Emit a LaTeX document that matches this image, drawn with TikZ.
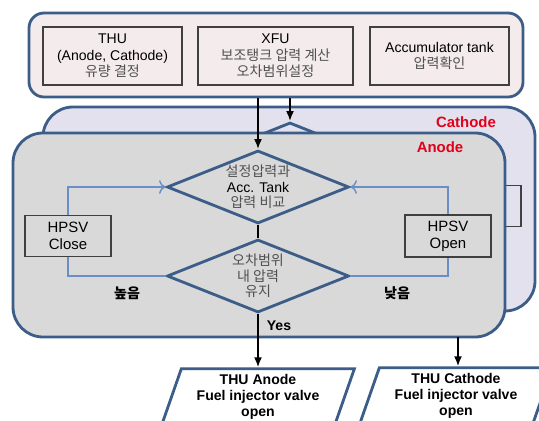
\documentclass[tikz,border=0pt]{standalone}
\usepackage{fontspec}
\setmainfont{Liberation Sans}
\newfontfamily\kr{Noto Sans CJK KR}
\usetikzlibrary{shapes.geometric,arrows.meta}

\definecolor{edgeblue}{HTML}{3B5D88}
\definecolor{lineblue}{HTML}{6B8EC4}
\definecolor{boxgray}{HTML}{404040}
\definecolor{pinkfill}{HTML}{F4ECEC}
\definecolor{lavfill}{HTML}{E4E1EE}
\definecolor{anodefill}{HTML}{D9D9D9}
\definecolor{labelred}{HTML}{E2001A}
\definecolor{korgray}{HTML}{505050}

\newcommand\kor[1]{{\kr\color{korgray}#1}}

\begin{document}
\begin{tikzpicture}[x=0.2mm,y=-0.2mm,
	every node/.style={font=\fontsize{8}{9.4}\selectfont, align=center},
	topframe/.style={draw=edgeblue, line width=1.6pt, rounded corners=3mm, fill=pinkfill},
	infobox/.style={draw=boxgray, line width=1.1pt, fill=pinkfill, minimum height=11.6mm},
	layerbox/.style={draw=edgeblue, line width=1.6pt, rounded corners=6mm, minimum width=98.4mm, minimum height=40.8mm},
	decision/.style={diamond, draw=edgeblue, line width=1.6pt, aspect=2.49, minimum width=36.4mm, minimum height=14.6mm, inner sep=0pt, font=\fontsize{8}{8.8}\selectfont},
	valvebox/.style={draw=boxgray, line width=1.1pt, minimum width=17.2mm, minimum height=8.2mm, font=\fontsize{8.5}{9.6}\selectfont},
	layertag/.style={text=labelred, font=\bfseries\fontsize{8.5}{10}\selectfont},
	kortag/.style={font=\kr\bfseries\fontsize{8}{9}\selectfont},
	outbox/.style={trapezium, trapezium left angle=73, trapezium right angle=107, trapezium stretches=true, draw=edgeblue, line width=1.6pt, fill=white, minimum width=38.6mm, minimum height=9.2mm, font=\bfseries\fontsize{8}{9}\selectfont},
	mainarrow/.style={draw=black, line width=1.1pt, -{Latex[length=2mm,width=1.6mm]}},
	loopline/.style={draw=lineblue, line width=0.8pt}]
	\useasboundingbox (0,0) rectangle (539,421);

	% top row
	\node (top) at (276,55)	[topframe, minimum width=98.8mm, minimum height=16.8mm]	{};
	\node (thu) at (112.5,56)	[infobox, minimum width=27.8mm]	{THU\\(Anode, Cathode)\\\kor{유량 결정}};
	\node (xfu) at (275.5,56)	[infobox, minimum width=31mm]	{XFU\\\kor{보조탱크 압력 계산}\\\kor{오차범위설정}};
	\node (acc) at (439.5,56)	[infobox, minimum width=27.8mm]	{Accumulator tank\\\kor{압력확인}};

	% cathode layer (behind)
	\node (cathode) at (289,209)	[layerbox, fill=lavfill]	{};
	\node (cathodeck) at (290,159)	[decision, fill=lavfill]	{};
	\node (cathodeopen) at (478,206)	[valvebox, fill=lavfill]	{};
	\node (cathodetag) at (466,122)	[layertag]	{Cathode};

	% anode layer
	\node (anode) at (259,235)	[layerbox, fill=anodefill]	{};
	\node (anodetag) at (440,147)	[layertag]	{Anode};
	\node (compare) at (258,187)	[decision]	{\kor{설정압력과}\\Acc. Tank\\\kor{압력 비교}};
	\node (range) at (258,276)	[decision]	{\kor{오차범위}\\\kor{내 압력}\\\kor{유지}};
	\node (close) at (68,236)	[valvebox]	{HPSV\\Close};
	\node (open) at (448,236)	[valvebox]	{HPSV\\Open};
	\node (high) at (127,293)	[kortag]	{높음};
	\node (low) at (397,293)	[kortag]	{낮음};
	\node (yes) at (279,326)	[font=\bfseries\fontsize{8}{9}\selectfont]	{Yes};

	% outputs
	\node (anodeout) at (258,397)	[outbox]	{THU Anode\\Fuel injector valve\\open};
	\node (cathodeout) at (456,396)	[outbox]	{THU Cathode\\Fuel injector valve\\open};
	\coordinate (cathodedrop) at (458,337);

	\draw[mainarrow] (top.south -| compare.north) -- (compare.north);
	\draw[mainarrow] (top.south -| cathodeck.north) -- (cathodeck.north);
	\draw[line width=1.1pt] (compare.south) -- (range.north);
	\draw[loopline] (range.west) -| (close.south);
	\draw[loopline, -{To[length=1.3mm]}] (close.north) |- (compare.west);
	\draw[loopline] (range.east) -| (open.south);
	\draw[loopline, -{To[length=1.3mm]}] (open.north) |- (compare.east);
	\draw[mainarrow] (range.south) -- (range.south |- anodeout.north);
	\draw[mainarrow] (cathodedrop) -- (cathodedrop |- cathodeout.north);
\end{tikzpicture}
\end{document}
